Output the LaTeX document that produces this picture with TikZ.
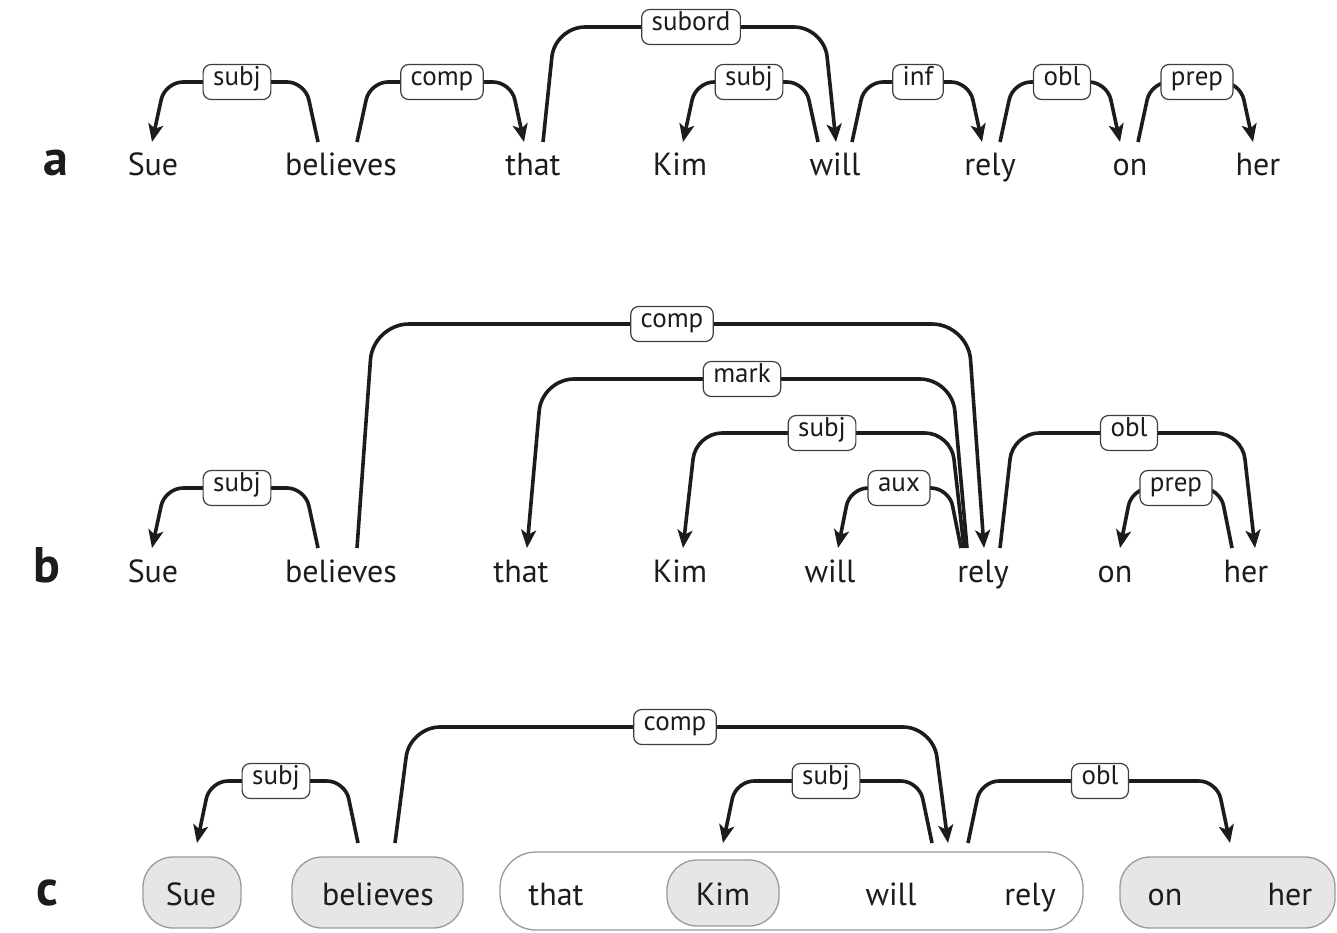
\documentclass[tikz,border=0pt]{standalone}
\usepackage{fontspec}
\setmainfont{PT Sans}
\usetikzlibrary{arrows.meta,calc}

\definecolor{ink}{HTML}{1E1B1C}
\definecolor{pillfill}{HTML}{E6E6E8}
\definecolor{pillline}{HTML}{9A9A9A}

\newcommand\wordfont{\fontsize{32}{32}\selectfont}
\newcommand\labfont{\fontsize{27}{27}\selectfont}
\newcommand\panelfont{\fontsize{50}{50}\selectfont\bfseries}

% one dependency arc: name, tail x, head x, foot y, label x, label y, text, leg slant, corner radius
\newcommand\deprel[9]{%
  \coordinate (#1-t) at (#2,#4);
  \coordinate (#1-h) at (#3,#4);
  \coordinate (#1-l) at (#5,#6);
  \draw[arc, rounded corners=#9]
    (#1-t) -- ($(#1-t |- #1-l)!#8!(#1-l)$)
           -- ($(#1-h |- #1-l)!#8!(#1-l)$)
           -- (#1-h);
  \node[lab] (#1) at (#1-l) {#7};
}

\begin{document}
\begin{tikzpicture}[x=1pt,y=-1pt,
  word/.style={font=\wordfont, text=ink, anchor=base, inner sep=0pt},
  panel/.style={font=\panelfont, text=ink, anchor=base, inner sep=0pt},
  lab/.style={draw=ink!85, fill=white, text=ink, rounded corners=8pt, line width=1.2pt,
    inner xsep=10pt, inner ysep=0pt, font=\labfont, text height=0.76em, text depth=0.16em,
    minimum height=35pt},
  arc/.style={draw=ink, line width=3.6pt, -{Stealth[length=18pt,width=15pt,inset=4.5pt]}},
  pill/.style={draw=pillline, line width=1.3pt, rounded corners=30pt, inner sep=0pt},
  graypill/.style={pill, fill=pillfill},
  whitepill/.style={pill, fill=white}]
\useasboundingbox (0,0) rectangle (1337,932);

% ---------------- panel a ----------------
\node[panel] (pa) at (56,175) {a};
\node[word] (aSue) at (153,175) {Sue};
\node[word] (aBel) at (341,175) {believes};
\node[word] (aThat) at (533,175) {that};
\node[word] (aKim) at (680,175) {Kim};
\node[word] (aWill) at (835,175) {will};
\node[word] (aRely) at (990,175) {rely};
\node[word] (aOn) at (1130,175) {on};
\node[word] (aHer) at (1258,175) {her};

\deprel{a1}{318}{152}{142}{237}{82}{subj}{13pt}{18pt}
\deprel{a2}{357}{524}{142}{442}{82}{comp}{13pt}{18pt}
\deprel{a3}{543}{836}{142}{691}{27}{subord}{12pt}{30pt}
\deprel{a4}{818}{683}{142}{749}{82}{subj}{13pt}{18pt}
\deprel{a5}{852}{982}{142}{918}{82}{inf}{13pt}{18pt}
\deprel{a6}{1000}{1120}{142}{1062}{82}{obl}{13pt}{18pt}
\deprel{a7}{1138}{1253}{142}{1197}{82}{prep}{13pt}{18pt}

% ---------------- panel b ----------------
\node[panel] (pb) at (47,582) {b};
\node[word] (bSue) at (153,582) {Sue};
\node[word] (bBel) at (341,582) {believes};
\node[word] (bThat) at (521,582) {that};
\node[word] (bKim) at (680,582) {Kim};
\node[word] (bWill) at (830,582) {will};
\node[word] (bRely) at (983,582) {rely};
\node[word] (bOn) at (1115,582) {on};
\node[word] (bHer) at (1246,582) {her};

\deprel{b1}{318}{152}{548}{237}{488}{subj}{13pt}{18pt}
\deprel{b2}{357}{984}{548}{672}{324}{comp}{16pt}{36pt}
\deprel{b3}{967}{527}{548}{742}{379}{mark}{15pt}{32pt}
\deprel{b4}{964}{683}{548}{822}{433}{subj}{13pt}{26pt}
\deprel{b5}{961}{838}{548}{899}{488}{aux}{12pt}{18pt}
\deprel{b6}{1000}{1255}{548}{1129}{433}{obl}{13pt}{26pt}
\deprel{b7}{1232}{1120}{548}{1176}{488}{prep}{12pt}{18pt}

% ---------------- panel c ----------------
\node[panel] (pc) at (47,905) {c};
\node[graypill, minimum width=98pt, minimum height=71pt] (cP1) at (192,892.5) {};
\node[graypill, minimum width=171pt, minimum height=71pt] (cP2) at (377.5,892.5) {};
\node[whitepill, minimum width=583pt, minimum height=78pt, rounded corners=36pt] (cP3) at (791.5,891) {};
\node[graypill, minimum width=112pt, minimum height=66pt] (cP4) at (723,893) {};
\node[graypill, minimum width=215pt, minimum height=71pt] (cP5) at (1227.5,892.5) {};

\node[word] (cSue) at (191,905) {Sue};
\node[word] (cBel) at (378,905) {believes};
\node[word] (cThat) at (556,905) {that};
\node[word] (cKim) at (723,905) {Kim};
\node[word] (cWill) at (891,905) {will};
\node[word] (cRely) at (1030,905) {rely};
\node[word] (cOn) at (1165,905) {on};
\node[word] (cHer) at (1290,905) {her};

\deprel{c1}{358}{197}{843}{276}{781}{subj}{13pt}{18pt}
\deprel{c2}{395}{948}{843}{675}{727}{comp}{15pt}{30pt}
\deprel{c3}{932}{723}{843}{826}{781}{subj}{13pt}{18pt}
\deprel{c4}{968}{1230}{843}{1100}{781}{obl}{13pt}{18pt}
\end{tikzpicture}
\end{document}
